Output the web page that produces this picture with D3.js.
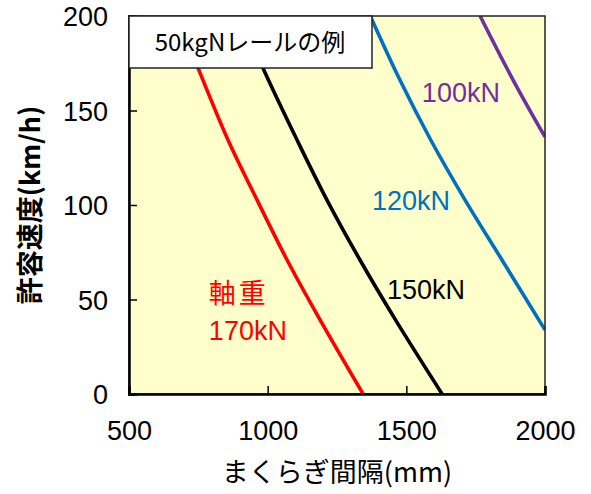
<!DOCTYPE html>
<html>
<head>
<meta charset="utf-8">
<script src="https://cdn.jsdelivr.net/npm/d3@7"></script>
<style>
  html, body { margin: 0; padding: 0; background: #ffffff; }
  svg { display: block; }
  text { font-family: "Noto Sans CJK JP", "Liberation Sans", sans-serif; }
</style>
</head>
<body>
<svg id="chart" width="591" height="494"></svg>
<script>
// ---- data ----
const xTicks = [500, 1000, 1500, 2000];
const yTicks = [0, 50, 100, 150, 200];
const xTitle = "まくらぎ間隔(mm)";
const yTitle = "許容速度(km/h)";
const legendText = "50kgNレールの例";

// each series: sleeper spacing (mm) at given allowable speeds (km/h)
const seriesNames = ["170kN", "150kN", "120kN", "100kN"];
const seriesColors = ["#ff0000", "#000000", "#0070c0", "#7030a0"];
const red170 = [[676, 200], [749, 172.5], [857, 134.4], [962, 102.6], [1070, 70.9], [1189, 39.2], [1344, 0]];
const black150 = [[904, 200], [983, 172.5], [1106, 134.4], [1214, 102.6], [1333, 70.9], [1461, 39.2], [1629, 0]];
const blue120 = [[1370, 200], [1477, 166.1], [1588, 134.4], [1712, 102.6], [1845, 70.9], [2000, 33.9]];
const purple100 = [[1766, 200], [1885, 166.1], [2000, 136]];
const seriesData = [red170, black150, blue120, purple100];

// curve labels: text, colour, anchor in data units (x mm, y km/h)
const labelTexts = ["100kN", "120kN", "150kN", "軸重", "170kN"];
const labelColors = ["#7030a0", "#0070c0", "#000000", "#ff0000", "#ff0000"];
const labelX = [1556, 1376, 1430, 788, 788];
const labelY = [154.5, 97.4, 50.3, 48.1, 28.6];

// ---- layout ----
const svg = d3.select("#chart");
const L = 129, R = 545, T = 16, B = 394;

const x = d3.scaleLinear().domain([500, 2000]).range([L, R]);
const y = d3.scaleLinear().domain([0, 200]).range([B, T]);

// plot background
svg.append("rect").attr("x", L).attr("y", T).attr("width", R - L).attr("height", B - T)
  .attr("fill", "#ffffcc");

svg.append("clipPath").attr("id", "clip")
  .append("rect").attr("x", L).attr("y", T).attr("width", R - L).attr("height", B - T);

// curves
const line = d3.line().x(d => x(d[0])).y(d => y(d[1])).curve(d3.curveCatmullRom.alpha(0.5));
const g = svg.append("g").attr("clip-path", "url(#clip)");
seriesData.forEach((s, i) => {
  g.append("path").datum(s).attr("d", line)
    .attr("fill", "none").attr("stroke", seriesColors[i]).attr("stroke-width", 3.6)
    .attr("stroke-linejoin", "round");
});

// frame
svg.append("rect").attr("x", L).attr("y", T).attr("width", R - L).attr("height", B - T)
  .attr("fill", "none").attr("stroke", "#222").attr("stroke-width", 1.5);

// axes
const xAxis = d3.axisBottom(x).tickValues(xTicks).tickSize(-8).tickPadding(27).tickFormat(d3.format("d"));
const yAxis = d3.axisLeft(y).tickValues(yTicks).tickSize(-8).tickPadding(21).tickFormat(d3.format("d"));

const gx = svg.append("g").attr("transform", `translate(0,${B})`).call(xAxis);
const gy = svg.append("g").attr("transform", `translate(${L},0)`).call(yAxis);
[gx, gy].forEach(ax => {
  ax.select(".domain").attr("stroke", "#000").attr("stroke-width", 2.5);
  ax.selectAll(".tick line").attr("stroke", "#000").attr("stroke-width", 1.5);
  ax.selectAll(".tick text").attr("fill", "#000").style("font-size", "27px")
    .style("font-family", "'Liberation Sans', Arial, sans-serif");
});
gy.selectAll(".tick text").attr("dy", "0.36em");

// axis titles
svg.append("text").attr("x", (L + R) / 2).attr("y", 482)
  .attr("text-anchor", "middle").style("font-size", "27px").attr("fill", "#000")
  .text(xTitle);
svg.append("text").attr("transform", `translate(40,${(T + B) / 2}) rotate(-90)`)
  .attr("text-anchor", "middle").style("font-size", "27px").style("font-weight", "bold")
  .attr("fill", "#000").text(yTitle);

// legend box
svg.append("rect").attr("x", L).attr("y", T).attr("width", 243).attr("height", 52)
  .attr("fill", "#ffffff").attr("stroke", "#222").attr("stroke-width", 1.5);
svg.append("text").attr("x", L + 121).attr("y", T + 26).attr("dy", "0.36em")
  .attr("text-anchor", "middle").style("font-size", "24px").attr("fill", "#000")
  .text(legendText);

// curve labels
labelTexts.forEach((t, i) => {
  svg.append("text").attr("x", x(labelX[i])).attr("y", y(labelY[i]))
    .style("font-size", "27px").attr("fill", labelColors[i])
    .style("font-family", t === "軸重" ? "'Noto Sans CJK JP', sans-serif" : "'Liberation Sans', Arial, sans-serif")
    .style("letter-spacing", t === "軸重" ? "3px" : "0px")
    .text(t);
});
</script>
</body>
</html>
